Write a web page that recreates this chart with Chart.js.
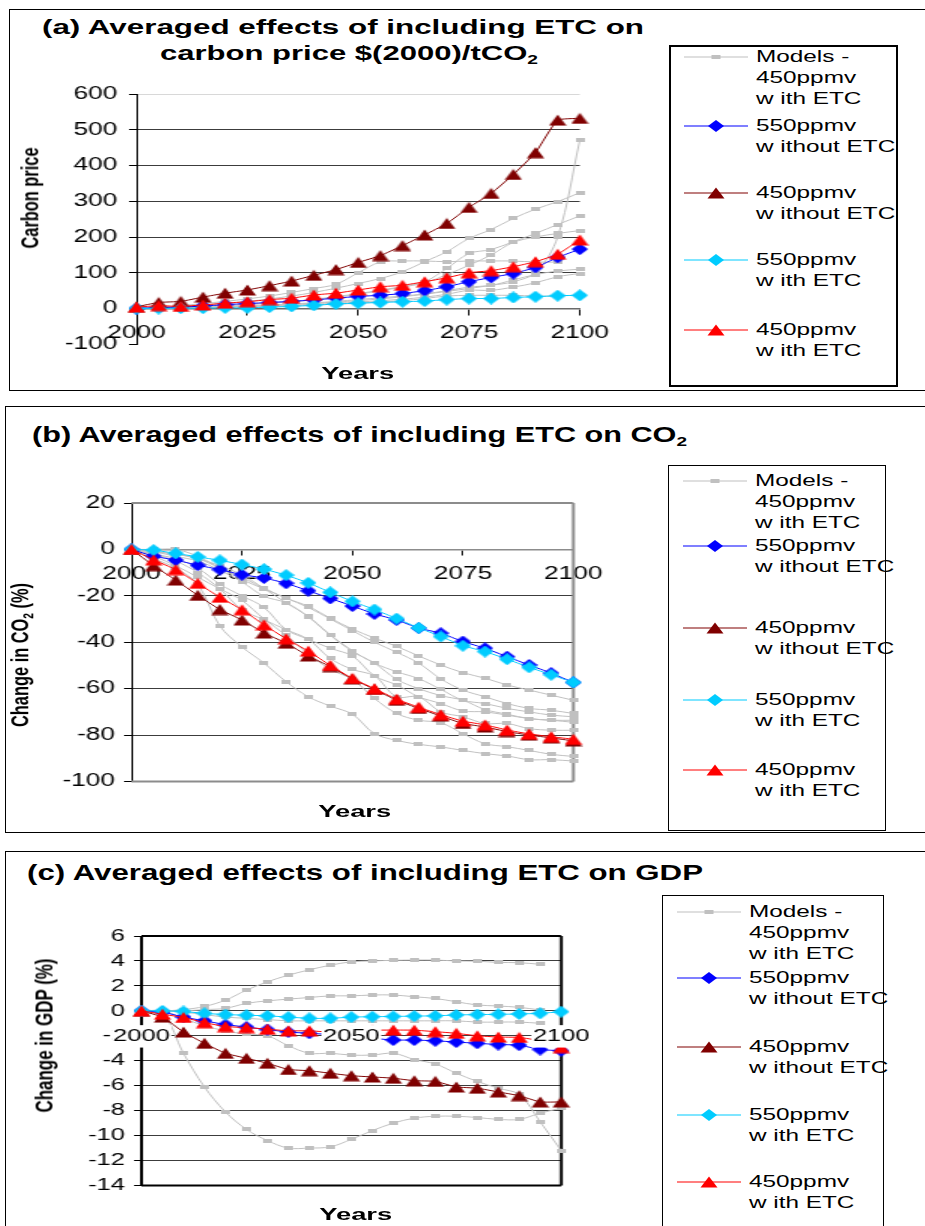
<!DOCTYPE html>
<html lang="en">
<head>
<meta charset="utf-8">
<title>Averaged effects of including ETC</title>
<script src="https://cdn.jsdelivr.net/npm/chart.js@4.4.1/dist/chart.umd.min.js"></script>
<style>
  body { margin: 0; width: 925px; height: 1226px; overflow: hidden; position: relative; background: #fff; font-family: Arial, "Liberation Sans", sans-serif; }
  .quadro { position: absolute; box-sizing: border-box; border: 1.5px solid #000; }
  .texto { position: absolute; white-space: nowrap; color: #000; }
  .texto sub { font-size: 0.62em; vertical-align: -0.3em; line-height: 0; }
  canvas { position: absolute; transform-origin: 0 0; }
  svg { position: absolute; overflow: visible; }
</style>
</head>
<body>
<script>
// -------------------------------------------------------------
// DADOS
// -------------------------------------------------------------
const ANOS = [2000, 2005, 2010, 2015, 2020, 2025, 2030, 2035, 2040, 2045, 2050,
              2055, 2060, 2065, 2070, 2075, 2080, 2085, 2090, 2095, 2100];
const TICKS_ANOS = [2000, 2025, 2050, 2075, 2100];
const TICKS_ANOS_C = [2000, 2050, 2100];
const TICKS_A = [-100, 0, 100, 200, 300, 400, 500, 600];
const TICKS_B = [-100, -80, -60, -40, -20, 0, 20];
const TICKS_C = [-14, -12, -10, -8, -6, -4, -2, 0, 2, 4, 6];

const NOMES_SERIES = [
    ['Models -', '450ppmv', 'w ith ETC'],
    ['550ppmv', 'w ithout ETC'],
    ['450ppmv', 'w ithout ETC'],
    ['550ppmv', 'w ith ETC'],
    ['450ppmv', 'w ith ETC']
];

// (a) preço do carbono
const A_550_SEM = [0, 3, 4, 7, 11, 14, 17, 20, 24, 29, 34, 37, 42, 50, 61, 75, 87, 98, 115, 143, 166];
const A_450_SEM = [5, 17, 20, 32, 43, 52, 64, 77, 93, 109, 129, 148, 176, 206, 238, 283, 322, 375, 436, 527, 532];
const A_550_COM = [0, 0, 1, 1, 2, 2, 4, 6, 9, 13, 15, 17, 19, 21, 25, 28, 28, 31, 33, 36, 37];
const A_450_COM = [4, 8, 6, 10, 15, 19, 25, 29, 38, 43, 52, 61, 65, 75, 86, 100, 106, 117, 131, 152, 192];
const A_MODELOS = [
    [0, 3, 6, 10, 15, 20, 27, 35, 45, 57, 70, 84, 103, 131, 159, 196, 221, 252, 278, 299, 324],
    [0, 3, 8, 14, 20, 27, 35, 45, 56, 68, 100, 130, 133, 133, 131, 133, 133, 133, 130, 130, null],
    [0, 1, 2, 3, 5, 7, 9, 12, 15, 18, 22, 27, 33, 40, 48, 56, 65, 75, 100, 200, 470],
    [0, 2, 4, 6, 9, 12, 16, 20, 26, 33, 42, 51, 62, 75, 112, 154, 165, 187, 210, 235, 259],
    [0, 2, 4, 6, 8, 11, 15, 19, 25, 32, 40, 50, 60, 72, 95, 121, 150, 185, 200, 210, 218],
    [0, 1, 2, 4, 6, 8, 10, 13, 16, 20, 25, 30, 35, 41, 50, 60, 65, 80, 95, 105, 110],
    [0, 1, 2, 3, 4, 6, 8, 10, 12, 15, 18, 22, 26, 32, 40, 51, 51, 60, 72, 89, 98],
    [0, 1, 2, 3, 4, 5, 6, 8, 10, 12, 15, 18, 22, 28, 35, 37, 37, 37, 35, 35, 38]
];

// (b) variação de CO2 (%)
const B_550_SEM = [0, -2.9, -4.6, -6.8, -8.7, -10.9, -12.3, -14.6, -17.8, -21.1, -24.4, -27.8, -30.4, -33.9, -36.1, -39.7, -42.6, -46.2, -49.8, -53.3, -57.3];
const B_450_SEM = [0, -7, -13.2, -19.8, -25.9, -30.4, -36, -40.4, -45.9, -50.5, -55.8, -60.3, -65, -68.5, -71.8, -75, -76.5, -78.5, -80, -81.2, -82.5];
const B_550_COM = [0, -0.3, -1.7, -3.2, -4.7, -6.5, -8.5, -11.1, -14.4, -18.5, -22.4, -25.9, -29.8, -33.8, -37.5, -41.5, -44, -47.3, -50.8, -54, -57.3];
const B_450_COM = [0, -4.5, -8.7, -14.6, -20.6, -26, -32.5, -38.5, -43.8, -50, -55.6, -60, -64.5, -68, -71.2, -74, -75.6, -77.8, -79.5, -80.7, -81.8];
const B_MODELOS = [
    [0, -1, -2, -4, -7, -11, -16.6, -21, -24.5, -29.6, -34.3, -38.2, -41.8, -45.9, -49.8, -53.1, -55.5, -58.4, -60.6, -62.8, -65],
    [0, -1, -3, -5, -9, -14, -20.2, -23, -28.9, -36.8, -43.6, -49, -52.7, -55.7, -60.3, -65, -66.4, -68.5, -70, -71.4, -72.1],
    [0, 0, 0, -3, -8, -13, -17, -21, -25, -30, -35, -40, -44.3, -49, -55.8, -60.6, -63.5, -66.4, -68.5, -69.3, -70.7],
    [0, -2, -4, -8, -15, -20, -25, -34.6, -38.7, -42.6, -45.9, -54.5, -58.4, -63.5, -66.4, -69.6, -70, -71.4, -72.9, -73.6, -73.6],
    [0, -2, -5, -10, -17, -26, -30.3, -34.6, -38.7, -47, -51.7, -54.5, -63.5, -63.5, -70, -72.1, -75, -75, -77.2, -77.9, -77.9],
    [0, -3, -7, -12, -17, -22, -30, -37, -45, -51.7, -56, -64.2, -70.7, -73.6, -74.7, -79.4, -83.7, -85, -86.6, -88.3, -89.2],
    [0, -4, -8, -15, -33, -42, -49, -57, -63.5, -67.5, -71, -79.4, -82.3, -84, -85.1, -86.6, -88, -89, -90.6, -90.6, -91.2],
    [0, -1, -2, -4, -8, -12, -17, -23, -29, -37, -44, -49, -56, -60, -63, -65, -69, -71, -72.9, -73.6, -74.5]
];

// (c) variação do PIB (%)
const C_550_SEM = [0, -0.1, -0.5, -0.8, -1.1, -1.3, -1.5, -1.7, -1.8, -1.9, -2.1, -2.2, -2.34, -2.34, -2.4, -2.5, -2.6, -2.7, -2.75, -3.1, -3.2];
const C_450_SEM = [0, -0.5, -1.7, -2.6, -3.4, -3.8, -4.2, -4.7, -4.8, -5.0, -5.2, -5.3, -5.4, -5.6, -5.65, -6.1, -6.2, -6.5, -6.8, -7.3, -7.3];
const C_550_COM = [0, 0, -0.05, -0.2, -0.3, -0.35, -0.4, -0.5, -0.6, -0.6, -0.5, -0.47, -0.45, -0.42, -0.4, -0.33, -0.3, -0.28, -0.25, -0.2, -0.07];
const C_450_COM = [0, -0.27, -0.53, -0.94, -1.26, -1.34, -1.47, -1.6, -1.6, -1.7, -1.6, -1.55, -1.54, -1.55, -1.67, -1.8, -2.0, -2.1, -2.13, -2.4, -2.95];
const C_MODELOS = [
    [0, 0, 0.1, 0.35, 0.86, 1.66, 2.33, 2.86, 3.29, 3.66, 3.93, 4.0, 4.05, 4.07, 4.07, 4.0, 3.98, 3.88, 3.86, 3.73, null],
    [0, 0, 0, 0.1, 0.2, 0.6, 0.8, 0.94, 1.07, 1.2, 1.2, 1.27, 1.27, 1.13, 0.99, 0.73, 0.47, 0.39, 0.28, 0.07, null],
    [0, 0, -0.1, -0.3, -0.5, -0.6, -0.7, -0.8, -0.8, -0.8, -0.8, -0.8, -0.8, -0.8, -0.8, -0.8, -0.9, -0.9, -0.9, -1.0, null],
    [0, 0, -0.6, -1.2, -1.6, -1.87, -2.0, -2.8, -3.4, -3.4, -3.55, -3.54, -3.4, -3.9, -4.26, -5.0, -5.66, -6.2, -6.7, -8.9, -11.2],
    [0, -0.2, -3.4, -6.1, -8.1, -9.5, -10.4, -11.0, -11.0, -10.9, -10.3, -9.6, -9.0, -8.6, -8.45, -8.45, -8.55, -8.7, -8.7, -8.2, -7.8]
];

// -------------------------------------------------------------
// ESTILOS
// -------------------------------------------------------------
const FONTE = 'Arial, "Liberation Sans", sans-serif';
const ESTICAR = 1.5; // o original está esticado na horizontal
const CORES = ['#c0c0c0', '#0000ff', '#800000', '#00ccff', '#ff0000'];
const MARCADORES = ['traco', 'losango', 'triangulo', 'losango', 'triangulo'];

function criarMarcador(tipo, cor) {
    const c = document.createElement('canvas');
    const ctx = c.getContext('2d');
    if (tipo === 'traco') {
        c.width = 6; c.height = 4;
        ctx.fillStyle = cor;
        ctx.fillRect(0, 0, 6, 4);
        return c;
    }
    c.width = tipo === 'losango' ? 11 : 12;
    c.height = 12;
    ctx.fillStyle = cor;
    ctx.beginPath();
    if (tipo === 'losango') {
        ctx.moveTo(5.5, 0); ctx.lineTo(11, 6); ctx.lineTo(5.5, 12); ctx.lineTo(0, 6);
    } else {
        ctx.moveTo(6, 0.5); ctx.lineTo(11.8, 11.5); ctx.lineTo(0.2, 11.5);
    }
    ctx.closePath();
    ctx.fill();
    return c;
}
const IMAGENS = CORES.map((cor, i) => criarMarcador(MARCADORES[i], cor));

// borda da área de plotagem
const bordaArea = {
    id: 'bordaArea',
    beforeDatasetsDraw(chart, args, opts) {
        if (!opts || !opts.cor) return;
        const { ctx, chartArea: a } = chart;
        ctx.save();
        ctx.strokeStyle = opts.cor;
        ctx.lineWidth = opts.largura;
        ctx.beginPath();
        if (opts.lados.includes('t')) { ctx.moveTo(a.left, a.top); ctx.lineTo(a.right, a.top); }
        if (opts.lados.includes('r')) { ctx.moveTo(a.right, a.top); ctx.lineTo(a.right, a.bottom); }
        if (opts.lados.includes('b')) { ctx.moveTo(a.left, a.bottom); ctx.lineTo(a.right, a.bottom); }
        if (opts.lados.includes('l')) { ctx.moveTo(a.left, a.top); ctx.lineTo(a.left, a.bottom); }
        ctx.stroke();
        ctx.restore();
    }
};

// -------------------------------------------------------------
// FUNÇÕES DE DESENHO
// -------------------------------------------------------------
function montarSerie(valores, indice, tensao) {
    return {
        data: ANOS.map((ano, i) => ({ x: ano, y: valores[i] })),
        borderColor: CORES[indice],
        backgroundColor: CORES[indice],
        borderWidth: 1,
        pointStyle: IMAGENS[indice],
        pointRadius: 6,
        tension: tensao,
        clip: false
    };
}

function criarGrafico(p) {
    const S = ESTICAR, P = 25, YW = 60;
    const larguraArea = (p.x1 - p.x0) / S;
    const alturaArea = p.y1 - p.y0;
    const w = Math.ceil(P + YW + larguraArea + P);
    const h = Math.ceil(P + alturaArea + P);

    const canvas = document.createElement('canvas');
    canvas.width = w;
    canvas.height = h;
    canvas.style.left = (p.x0 - (P + YW) * S) + 'px';
    canvas.style.top = (p.y0 - P) + 'px';
    canvas.style.transform = `scaleX(${S})`;
    document.body.appendChild(canvas);

    // a primeira série fica por cima
    const datasets = [
        montarSerie(p.com450, 4, 0.15),
        montarSerie(p.com550, 3, 0.15),
        montarSerie(p.sem450, 2, 0.15),
        montarSerie(p.sem550, 1, 0.15),
        ...p.modelos.map(m => montarSerie(m, 0, 0.35))
    ];

    const fonte = { family: FONTE, size: p.fonte };

    new Chart(canvas, {
        type: 'line',
        data: { datasets },
        plugins: [bordaArea],
        options: {
            responsive: false, animation: false, events: [],
            layout: { padding: { left: P, top: P, right: w - P - YW - larguraArea, bottom: h - P - alturaArea } },
            plugins: { legend: { display: false }, tooltip: { enabled: false }, bordaArea: p.borda },
            scales: {
                x: {
                    type: 'linear', min: ANOS[0], max: ANOS[ANOS.length - 1],
                    position: { y: 0 },
                    afterBuildTicks: s => { s.ticks = p.ticksX.map(v => ({ value: v })); },
                    grid: { drawOnChartArea: false, drawTicks: p.tickX > 0, tickLength: p.tickX, tickColor: '#000', lineWidth: 1 },
                    border: { display: !!p.eixoX, color: p.eixoX || '#000', width: 1.5 },
                    ticks: {
                        color: '#000', font: fonte, padding: p.padX, maxRotation: 0, autoSkip: false,
                        callback: v => String(v), z: p.rotuloPorCima ? 1 : 0,
                        showLabelBackdrop: !!p.rotuloPorCima, backdropColor: '#fff', backdropPadding: { x: 1, y: 1 }
                    }
                },
                y: {
                    type: 'linear', position: 'left',
                    min: p.ticksY[0], max: p.ticksY[p.ticksY.length - 1],
                    afterBuildTicks: s => { s.ticks = p.ticksY.map(v => ({ value: v })); },
                    afterFit: s => { s.width = YW; },
                    grid: { color: c => p.corGrade(c.tick.value), lineWidth: 1, tickLength: 5, tickColor: '#000' },
                    border: { color: '#000', width: 1 },
                    ticks: { color: '#000', font: fonte, padding: p.padY, callback: v => String(v) }
                }
            }
        }
    });
}

function escreverTexto(t) {
    const el = document.createElement('div');
    el.className = 'texto';
    el.innerHTML = t.html;
    el.style.fontSize = t.size + 'px';
    el.style.fontWeight = t.bold ? 'bold' : 'normal';
    el.style.lineHeight = t.size + 'px';
    document.body.appendChild(el);
    const largura = el.getBoundingClientRect().width;
    if (t.rot) {
        el.style.left = (t.cx - largura / 2) + 'px';
        el.style.top = (t.cy - t.size / 2) + 'px';
        el.style.transform = `scale(${t.kx}, ${t.len / largura}) rotate(-90deg)`;
        return;
    }
    const k = t.w ? t.w / largura : t.k;
    el.style.top = (t.y - t.size * 0.5) + 'px';
    if (t.cx !== undefined) {
        el.style.left = (t.cx - largura / 2) + 'px';
        el.style.transformOrigin = '50% 50%';
    } else {
        el.style.left = t.x + 'px';
        el.style.transformOrigin = '0 50%';
    }
    el.style.transform = `scaleX(${k})`;
}

function criarQuadro(x, y, w, h, espessura) {
    const d = document.createElement('div');
    d.className = 'quadro';
    d.style.left = x + 'px'; d.style.top = y + 'px';
    d.style.width = w + 'px'; d.style.height = h + 'px';
    d.style.borderWidth = espessura + 'px';
    document.body.appendChild(d);
}

function marcadorLegenda(x, y, i) {
    const ns = 'http://www.w3.org/2000/svg';
    const svg = document.createElementNS(ns, 'svg');
    svg.setAttribute('width', 64);
    svg.setAttribute('height', 16);
    svg.style.left = x + 'px';
    svg.style.top = (y - 8) + 'px';
    const linha = document.createElementNS(ns, 'line');
    linha.setAttribute('x1', 0); linha.setAttribute('x2', 64);
    linha.setAttribute('y1', 8); linha.setAttribute('y2', 8);
    linha.setAttribute('stroke', CORES[i]); linha.setAttribute('stroke-width', 1.2);
    svg.appendChild(linha);
    let forma;
    if (MARCADORES[i] === 'traco') {
        forma = document.createElementNS(ns, 'rect');
        forma.setAttribute('x', 27.5); forma.setAttribute('y', 6);
        forma.setAttribute('width', 9); forma.setAttribute('height', 4);
    } else {
        forma = document.createElementNS(ns, 'polygon');
        forma.setAttribute('points', MARCADORES[i] === 'losango'
            ? '24,8 32,2 40,8 32,14' : '32,2.5 40.5,13.5 23.5,13.5');
    }
    forma.setAttribute('fill', CORES[i]);
    svg.appendChild(forma);
    document.body.appendChild(svg);
}

function criarLegenda(leg) {
    criarQuadro(leg.x, leg.y, leg.w, leg.h, leg.borda);
    NOMES_SERIES.forEach((linhas, i) => {
        const y = leg.ys[i];
        marcadorLegenda(leg.xm, y, i);
        linhas.forEach((txt, j) => escreverTexto({ html: txt, x: leg.xt, y: y + j * 21, size: 16, k: 1.52 }));
    });
}

// -------------------------------------------------------------
// MONTAGEM DA PÁGINA
// -------------------------------------------------------------
criarQuadro(9, 9, 930, 382, 1.5);
criarQuadro(5, 406, 930, 427, 1.5);
criarQuadro(5, 851, 930, 420, 1.5);

criarGrafico({
    x0: 136, x1: 582, y0: 93.7, y1: 344,
    ticksX: TICKS_ANOS, ticksY: TICKS_A, fonte: 17.5, tickX: 6, padX: 8, padY: 7.7, eixoX: '#6b6b6b',
    corGrade: v => v === 600 ? '#d8d8d8' : (v === 0 || v === -100 ? 'rgba(0,0,0,0)' : '#3c3c3c'),
    borda: false,
    sem550: A_550_SEM, sem450: A_450_SEM, com550: A_550_COM, com450: A_450_COM, modelos: A_MODELOS
});
criarGrafico({
    x0: 131.5, x1: 577.5, y0: 503, y1: 781.5,
    ticksX: TICKS_ANOS, ticksY: TICKS_B, fonte: 17.5, tickX: 5, padX: 9, padY: 6, eixoX: '#8c8c8c',
    corGrade: v => (v < 0 && v > -100) ? '#3c3c3c' : 'rgba(0,0,0,0)',
    borda: { cor: '#8c8c8c', largura: 2, lados: 'trb' },
    sem550: B_550_SEM, sem450: B_450_SEM, com550: B_550_COM, com450: B_450_COM, modelos: B_MODELOS
});
criarGrafico({
    x0: 141.5, x1: 575, y0: 936, y1: 1185.5,
    ticksX: TICKS_ANOS_C, ticksY: TICKS_C, fonte: 17, tickX: 0, padX: 15.3, padY: 6, eixoX: null, rotuloPorCima: true,
    corGrade: v => (v === 6 || v === -14) ? 'rgba(0,0,0,0)' : '#3c3c3c',
    borda: { cor: '#000', largura: 2, lados: 'trbl' },
    sem550: C_550_SEM, sem450: C_450_SEM, com550: C_550_COM, com450: C_450_COM, modelos: C_MODELOS
});

// títulos e eixos
escreverTexto({ html: '(a) Averaged effects of including ETC on', x: 42, w: 602, y: 27, size: 20, bold: true });
escreverTexto({ html: 'carbon price $(2000)/tCO<sub>2</sub>', x: 160, w: 378, y: 53, size: 20, bold: true });
escreverTexto({ html: '(b) Averaged effects of including ETC on CO<sub>2</sub>', x: 32, w: 655, y: 435, size: 22, bold: true });
escreverTexto({ html: '(c) Averaged effects of including ETC on GDP', x: 27, w: 676, y: 873, size: 22, bold: true });

escreverTexto({ html: 'Years', cx: 358, y: 373, w: 73, size: 17, bold: true });
escreverTexto({ html: 'Years', cx: 354.5, y: 811.5, w: 73, size: 17, bold: true });
escreverTexto({ html: 'Years', cx: 356, y: 1214, w: 73, size: 17, bold: true });

escreverTexto({ html: 'Carbon price', rot: true, cx: 31, cy: 198, len: 101, kx: 1.45, size: 16, bold: true });
escreverTexto({ html: 'Change in CO<sub>2</sub> (%)', rot: true, cx: 21, cy: 655, len: 144, kx: 1.45, size: 16, bold: true });
escreverTexto({ html: 'Change in GDP (%)', rot: true, cx: 44, cy: 1035, len: 154, kx: 1.45, size: 17, bold: true });

// legendas
criarLegenda({ x: 669, y: 45, w: 229, h: 342, borda: 2.5, xm: 684, xt: 756, ys: [57.3, 125.7, 193.3, 260, 330] });
criarLegenda({ x: 668, y: 465, w: 218, h: 366, borda: 1, xm: 683, xt: 755, ys: [481, 546, 628, 700, 770] });
criarLegenda({ x: 662, y: 895, w: 222, h: 360, borda: 1, xm: 677, xt: 749, ys: [912, 978, 1047, 1115, 1182] });
</script>
</body>
</html>
